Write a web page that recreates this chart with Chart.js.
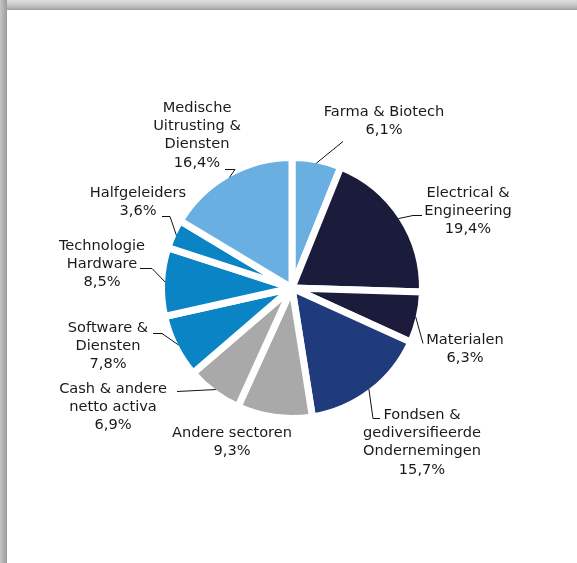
<!DOCTYPE html>
<html lang="nl">
<head>
<meta charset="utf-8">
<title>Sectorverdeling</title>
<script src="https://cdn.jsdelivr.net/npm/chart.js@4/dist/chart.umd.min.js"></script>
<style>
  html, body { margin: 0; padding: 0; background: #ffffff; overflow: hidden; }
  #stage { position: relative; width: 577px; height: 563px; background: #ffffff; }
  .edge-top { position: absolute; left: 0; top: 0; width: 577px; height: 10px;
    background: linear-gradient(to bottom, #dedede 0%, #c8c8c8 50%, #a0a0a0 100%); }
  .edge-left { position: absolute; left: 0; top: 0; width: 7px; height: 563px;
    background: linear-gradient(to right, #c6c6c6 0%, #b0b0b0 50%, #9a9a9a 100%); }
  canvas { position: absolute; left: 0; top: 0; }
</style>
</head>
<body>
<div id="stage">
  <div class="edge-top"></div>
  <div class="edge-left"></div>
  <canvas id="chart" width="577" height="563"></canvas>
</div>
<script>
// Sector names (one entry per text line), clockwise from 12 o'clock
const categories = [
  ['Farma & Biotech'],
  ['Electrical &', 'Engineering'],
  ['Materialen'],
  ['Fondsen &', 'gediversifieerde', 'Ondernemingen'],
  ['Andere sectoren'],
  ['Cash & andere', 'netto activa'],
  ['Software &', 'Diensten'],
  ['Technologie', 'Hardware'],
  ['Halfgeleiders'],
  ['Medische', 'Uitrusting &', 'Diensten']
];

// Weight of each sector, in percent
const shares = [6.1, 19.4, 6.3, 15.7, 9.3, 6.9, 7.8, 8.5, 3.6, 16.4];

const sliceColors = [
  '#6aafe1', '#1b1c3b', '#1b1c3b', '#1f3b7b', '#a9a9a9',
  '#a9a9a9', '#0b84c6', '#0b84c6', '#0b84c6', '#6aafe1'
];

// Label placement relative to the pie centre: text block centre (dx, first line dy)
// and the bend points of the leader line, which starts on the slice edge.
const labelLayout = [
  { dx: 92,   dy: -176, leader: [[51, -147]] },
  { dx: 176,  dy: -95,  leader: [[121, -73], [130, -73]] },
  { dx: 173,  dy: 52,   leader: [[131, 55]] },
  { dx: 130,  dy: 127,  leader: [[81, 130], [88, 130]] },
  { dx: -60,  dy: 145,  leader: [] },
  { dx: -179, dy: 101,  leader: [[-115, 103]] },
  { dx: -184, dy: 40,   leader: [[-130, 45], [-139, 45]] },
  { dx: -190, dy: -42,  leader: [[-140, -20], [-152, -20]] },
  { dx: -154, dy: -95,  leader: [[-122, -72], [-130, -72]] },
  { dx: -95,  dy: -180, leader: [[-57, -119], [-67, -119]] }
];

const LINE_H = 18.3;
const fmtPct = v => v.toFixed(1).replace('.', ',') + '%';

const sliceLabels = {
  id: 'sliceLabels',
  afterDatasetsDraw(chart) {
    const ctx = chart.ctx;
    const meta = chart.getDatasetMeta(0);
    const ds = chart.data.datasets[0];
    ctx.save();
    ctx.font = '14.6px "DejaVu Sans", Verdana, sans-serif';
    ctx.fillStyle = '#1a1a1a';
    ctx.strokeStyle = '#111111';
    ctx.lineWidth = 1;
    ctx.textAlign = 'center';
    ctx.textBaseline = 'middle';
    meta.data.forEach((arc, i) => {
      const p = arc.getProps(['x', 'y', 'startAngle', 'endAngle', 'outerRadius'], true);
      const mid = (p.startAngle + p.endAngle) / 2;
      const r = p.outerRadius - ds.borderWidth / 2;
      const lay = labelLayout[i];
      if (lay.leader.length) {
        ctx.beginPath();
        ctx.moveTo(p.x + Math.cos(mid) * r, p.y + Math.sin(mid) * r);
        lay.leader.forEach(([dx, dy]) => ctx.lineTo(p.x + dx, p.y + dy + 0.5));
        ctx.stroke();
      }
      const lines = [...chart.data.labels[i], fmtPct(ds.data[i])];
      lines.forEach((t, k) => ctx.fillText(t, p.x + lay.dx, p.y + lay.dy + k * LINE_H));
    });
    ctx.restore();
  }
};

new Chart(document.getElementById('chart'), {
  type: 'pie',
  data: {
    labels: categories,
    datasets: [{
      data: shares,
      backgroundColor: sliceColors,
      borderColor: '#ffffff',
      borderWidth: 7,
      radius: 130.5
    }]
  },
  options: {
    responsive: false,
    animation: false,
    devicePixelRatio: 1,
    layout: { padding: { left: 7, top: 13, right: 0, bottom: 0 } },
    plugins: {
      legend: { display: false },
      tooltip: { enabled: false }
    }
  },
  plugins: [sliceLabels]
});
</script>
</body>
</html>
